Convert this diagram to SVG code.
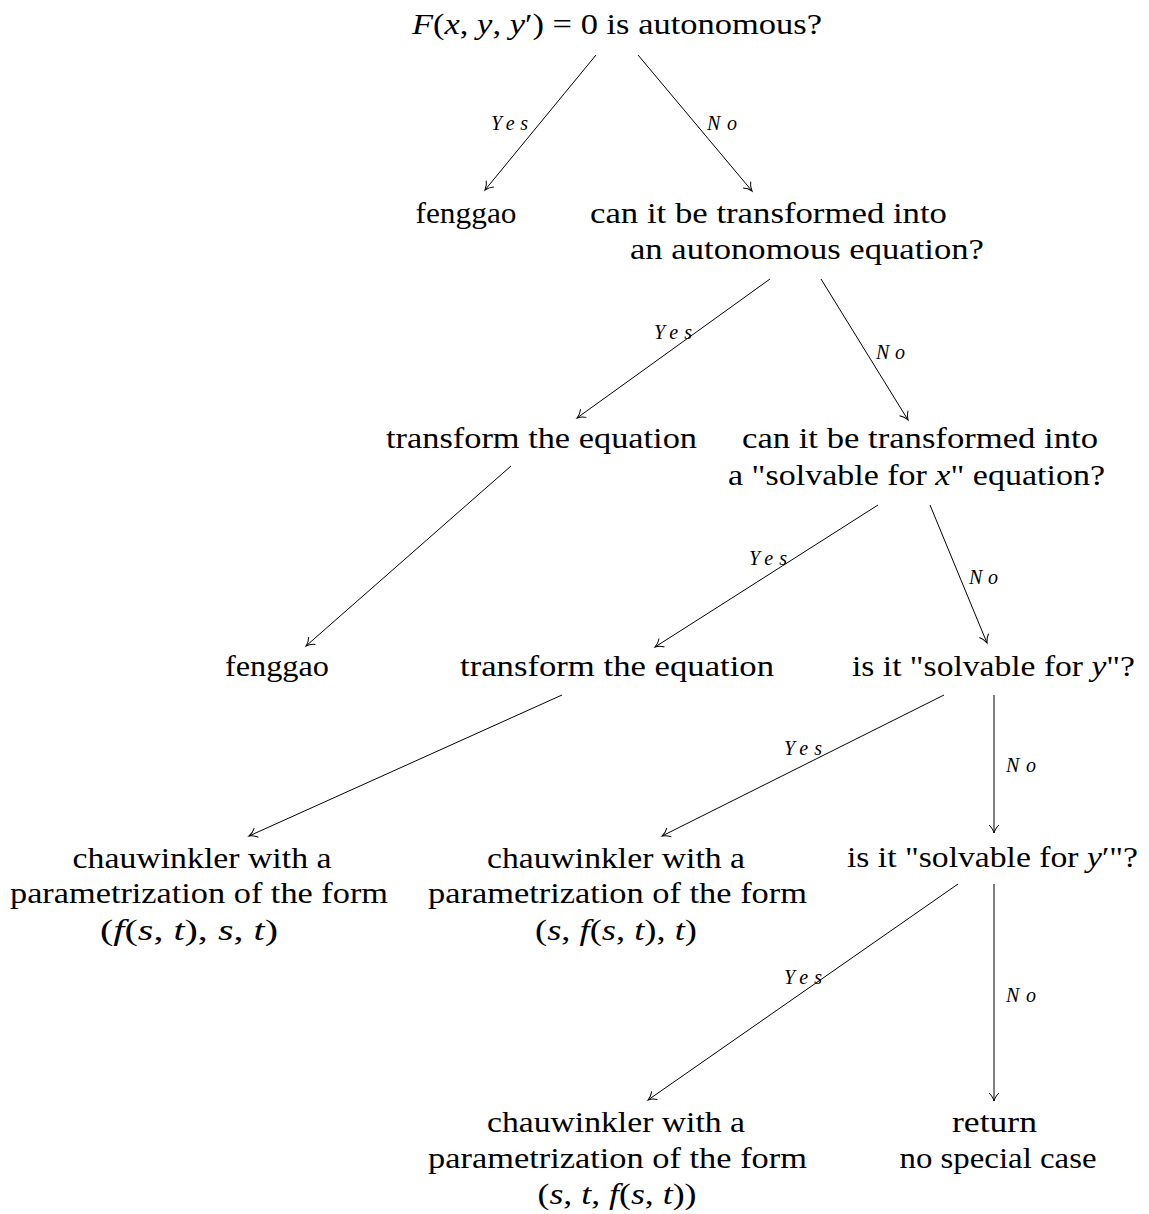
<svg xmlns="http://www.w3.org/2000/svg" width="1149" height="1214" viewBox="0 0 1149 1214">
<style>
.n{font-family:"Liberation Serif","Times New Roman",serif;font-size:29px;fill:#000;text-anchor:middle}
.i{font-style:italic}
.l{font-family:"Liberation Serif","Times New Roman",serif;font-size:20px;font-style:italic;fill:#000}
.e{stroke:#000;stroke-width:1;fill:none;marker-end:url(#to)}
</style>
<defs>
<marker id="to" markerUnits="userSpaceOnUse" markerWidth="12" markerHeight="12" refX="0" refY="0" viewBox="-9 -6 10 12" orient="auto" overflow="visible">
<path d="M-8,-5 C-5.5,-2.2 -2.2,-0.6 0,0 C-2.2,0.6 -5.5,2.2 -8,5" fill="none" stroke="#000" stroke-width="1"/>
</marker>
</defs>
<rect width="1149" height="1214" fill="#fff"/>
<g id="connectors">
<line class="e" x1="596" y1="55" x2="485" y2="190"/>
<line class="e" x1="638" y1="55" x2="752" y2="191"/>
<line class="e" x1="770" y1="279" x2="577" y2="418"/>
<line class="e" x1="821" y1="279" x2="908" y2="420"/>
<line class="e" x1="511" y1="466" x2="306" y2="646"/>
<line class="e" x1="878" y1="505" x2="655" y2="647"/>
<line class="e" x1="930" y1="505" x2="987" y2="643"/>
<line class="e" x1="562" y1="695" x2="249" y2="836"/>
<line class="e" x1="944" y1="695" x2="662" y2="836"/>
<line class="e" x1="994" y1="695" x2="994" y2="833"/>
<line class="e" x1="958" y1="884" x2="648" y2="1100"/>
<line class="e" x1="994" y1="884" x2="994" y2="1101"/>
<text class="l" x="491" y="130" textLength="37" lengthAdjust="spacing">Yes</text>
<text class="l" x="707" y="130" textLength="30" lengthAdjust="spacing">No</text>
<text class="l" x="654" y="339" textLength="38" lengthAdjust="spacing">Yes</text>
<text class="l" x="876" y="359" textLength="29" lengthAdjust="spacing">No</text>
<text class="l" x="749" y="565" textLength="38" lengthAdjust="spacing">Yes</text>
<text class="l" x="969" y="584" textLength="29" lengthAdjust="spacing">No</text>
<text class="l" x="784" y="755" textLength="38" lengthAdjust="spacing">Yes</text>
<text class="l" x="1006" y="772" textLength="30" lengthAdjust="spacing">No</text>
<text class="l" x="784" y="984" textLength="38" lengthAdjust="spacing">Yes</text>
<text class="l" x="1006" y="1002" textLength="30" lengthAdjust="spacing">No</text>
</g>
<g id="n1"><text class="n" x="617" y="34" textLength="410" lengthAdjust="spacingAndGlyphs"><tspan class="i">F</tspan>(<tspan class="i">x</tspan>, <tspan class="i">y</tspan>, <tspan class="i">y</tspan>′) = 0 is autonomous?</text></g>
<g id="n2"><text class="n" x="466" y="223" textLength="101" lengthAdjust="spacingAndGlyphs">fenggao</text></g>
<g id="n3">
<text class="n" x="768.5" y="223" textLength="357" lengthAdjust="spacingAndGlyphs">can it be transformed into</text>
<text class="n" x="807" y="259" textLength="354" lengthAdjust="spacingAndGlyphs">an autonomous equation?</text>
</g>
<g id="n4"><text class="n" x="541.5" y="448" textLength="311" lengthAdjust="spacingAndGlyphs">transform the equation</text></g>
<g id="n5">
<text class="n" x="920" y="448" textLength="356" lengthAdjust="spacingAndGlyphs">can it be transformed into</text>
<text class="n" x="916.5" y="485" textLength="377" lengthAdjust="spacingAndGlyphs">a "solvable for <tspan class="i">x</tspan>" equation?</text>
</g>
<g id="n6"><text class="n" x="277" y="676" textLength="104" lengthAdjust="spacingAndGlyphs">fenggao</text></g>
<g id="n7"><text class="n" x="617" y="676" textLength="314" lengthAdjust="spacingAndGlyphs">transform the equation</text></g>
<g id="n8"><text class="n" x="993.5" y="676" textLength="283" lengthAdjust="spacingAndGlyphs">is it "solvable for <tspan class="i">y</tspan>"?</text></g>
<g id="n9">
<text class="n" x="202" y="868" textLength="259" lengthAdjust="spacingAndGlyphs">chauwinkler with a</text>
<text class="n" x="199" y="903" textLength="378" lengthAdjust="spacingAndGlyphs">parametrization of the form</text>
<text class="n" x="189" y="940" textLength="178" lengthAdjust="spacingAndGlyphs">(<tspan class="i">f</tspan>(<tspan class="i">s</tspan>, <tspan class="i">t</tspan>), <tspan class="i">s</tspan>, <tspan class="i">t</tspan>)</text>
</g>
<g id="n10">
<text class="n" x="616" y="868" textLength="258" lengthAdjust="spacingAndGlyphs">chauwinkler with a</text>
<text class="n" x="617.5" y="903" textLength="379" lengthAdjust="spacingAndGlyphs">parametrization of the form</text>
<text class="n" x="616" y="940" textLength="162" lengthAdjust="spacingAndGlyphs">(<tspan class="i">s</tspan>, <tspan class="i">f</tspan>(<tspan class="i">s</tspan>, <tspan class="i">t</tspan>), <tspan class="i">t</tspan>)</text>
</g>
<g id="n11"><text class="n" x="992.5" y="867" textLength="291" lengthAdjust="spacingAndGlyphs">is it "solvable for <tspan class="i">y</tspan>′"?</text></g>
<g id="n12">
<text class="n" x="616" y="1132" textLength="258" lengthAdjust="spacingAndGlyphs">chauwinkler with a</text>
<text class="n" x="617.5" y="1168" textLength="379" lengthAdjust="spacingAndGlyphs">parametrization of the form</text>
<text class="n" x="617" y="1204" textLength="159" lengthAdjust="spacingAndGlyphs">(<tspan class="i">s</tspan>, <tspan class="i">t</tspan>, <tspan class="i">f</tspan>(<tspan class="i">s</tspan>, <tspan class="i">t</tspan>))</text>
</g>
<g id="n13">
<text class="n" x="994.5" y="1132" textLength="85" lengthAdjust="spacingAndGlyphs">return</text>
<text class="n" x="998" y="1168" textLength="197" lengthAdjust="spacingAndGlyphs">no special case</text>
</g>
</svg>
